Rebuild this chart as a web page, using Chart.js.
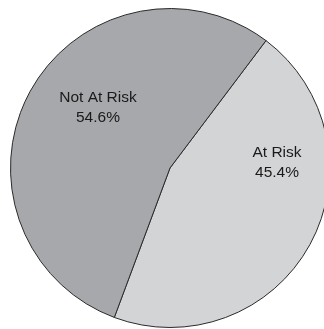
<!DOCTYPE html>
<html>
<head>
<meta charset="utf-8">
<script src="https://cdn.jsdelivr.net/npm/chart.js@4"></script>
<style>
  html, body { margin: 0; padding: 0; background: #ffffff; overflow: hidden; width: 324px; height: 329px; }
  #wrap { position: absolute; left: 10px; top: 8px; width: 320px; height: 320px; }
</style>
</head>
<body>
<div id="wrap"><canvas id="chart"></canvas></div>
<script>
// Risk status shares (percent)
const categories = ['At Risk', 'Not At Risk'];
const shares = [45.4, 54.6];
const valueLabels = ['45.4%', '54.6%'];

const sliceColors = ['#d3d4d6', '#a7a8ab'];

// Label anchor per slice: angle clockwise from 12 o'clock (deg) and fraction of radius
const labelAnchors = [
  { angle: 86.6, radius: 0.672 },
  { angle: 310.5, radius: 0.594 }
];

const sliceLabels = {
  id: 'sliceLabels',
  afterDatasetsDraw(chart, args, opts) {
    const ctx = chart.ctx;
    const meta = chart.getDatasetMeta(0);
    ctx.save();
    ctx.font = opts.font;
    ctx.fillStyle = opts.color;
    ctx.textAlign = 'center';
    ctx.textBaseline = 'alphabetic';
    meta.data.forEach((arc, i) => {
      const p = arc.getProps(['x', 'y', 'outerRadius'], true);
      const a = opts.anchors[i];
      const t = (a.angle - 90) * Math.PI / 180;
      const cx = p.x + Math.cos(t) * p.outerRadius * a.radius;
      const cy = p.y + Math.sin(t) * p.outerRadius * a.radius;
      ctx.fillText(categories[i], cx, cy - 4.5);
      ctx.fillText(valueLabels[i], cx, cy + 15.5);
    });
    ctx.restore();
  }
};

new Chart(document.getElementById('chart'), {
  type: 'pie',
  data: {
    labels: categories,
    datasets: [{
      data: shares,
      backgroundColor: sliceColors,
      borderColor: '#2a2a2a',
      borderWidth: 1
    }]
  },
  options: {
    responsive: true,
    maintainAspectRatio: false,
    animation: false,
    rotation: 37,
    layout: { padding: 0 },
    plugins: {
      legend: { display: false },
      tooltip: { enabled: false },
      sliceLabels: {
        anchors: labelAnchors,
        font: '15.5px "Liberation Sans", Arial, sans-serif',
        color: '#1a1a1a'
      }
    }
  },
  plugins: [sliceLabels]
});
</script>
</body>
</html>
